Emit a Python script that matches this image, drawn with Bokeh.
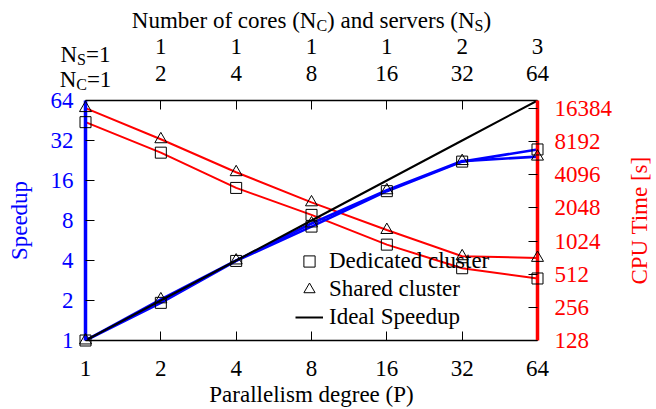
import math
from bokeh.plotting import figure
from bokeh.models import (LogAxis, Range1d, LogScale, FixedTicker, NumeralTickFormatter,
                          Legend, LegendItem)
from bokeh.core.properties import value
from bokeh.embed import file_html
from bokeh.resources import INLINE

# ---------------- data ----------------
parallelism = [1, 2, 4, 8, 16, 32, 64]
servers = [1, 1, 1, 1, 1, 2, 3]
cores = [1, 2, 4, 8, 16, 32, 64]
speedup_dedicated = [1.0, 1.92, 3.97, 7.2, 13.3, 22.2, 27.4]
speedup_shared = [1.0, 2.04, 4.0, 7.6, 13.5, 22.4, 24.2]
speedup_ideal = [1, 2, 4, 8, 16, 32, 64]
cpu_dedicated = [12300, 6500, 3110, 1770, 950, 580, 468]
cpu_shared = [16500, 8600, 4320, 2300, 1290, 745, 720]
speedup_ticks = [1, 2, 4, 8, 16, 32, 64]
cpu_ticks = [128, 256, 512, 1024, 2048, 4096, 8192, 16384]

FONT = "Liberation Serif"
FS = 23
SUB = 16
BLUE = "#0000ff"
RED = "#ff0000"

CPU_MIN, CPU_MAX = 128, 19350

p = figure(width=656, height=409, x_axis_type="log", y_axis_type="log",
           x_range=Range1d(1, 64), y_range=Range1d(1, 64),
           output_backend="svg", toolbar_location=None,
           min_border_left=85, min_border_right=119, min_border_top=100, min_border_bottom=69)
p.outline_line_color = None
p.grid.visible = False
p.extra_y_ranges = {"cpu": Range1d(CPU_MIN, CPU_MAX)}
p.extra_y_scales = {"cpu": LogScale()}

# lines
p.line(parallelism, cpu_shared, line_color=RED, line_width=2, y_range_name="cpu")
p.line(parallelism, cpu_dedicated, line_color=RED, line_width=2, y_range_name="cpu")
p.line(parallelism, speedup_dedicated, line_color=BLUE, line_width=2.6)
p.line(parallelism, speedup_shared, line_color=BLUE, line_width=2.6)
ideal = p.line(parallelism, speedup_ideal, line_color="black", line_width=2)

mk = dict(fill_color=None, line_color="black", line_width=1, level="overlay")
sq = p.scatter(parallelism, speedup_dedicated, marker="square", size=11, **mk)
tr = p.scatter(parallelism, speedup_shared, marker="triangle", size=12, **mk)
p.scatter(parallelism, cpu_dedicated, marker="square", size=11, y_range_name="cpu", **mk)
p.scatter(parallelism, cpu_shared, marker="triangle", size=12, y_range_name="cpu", **mk)


def style_axis(ax, ticks, label_color, line_color, line_width):
    ax.ticker = FixedTicker(ticks=ticks, minor_ticks=[])
    ax.formatter = NumeralTickFormatter(format="0")
    ax.major_label_text_font = FONT
    ax.major_label_text_font_size = f"{FS}px"
    ax.major_label_text_color = label_color
    ax.axis_line_color = line_color
    ax.axis_line_width = line_width
    ax.major_tick_in = 9
    ax.major_tick_out = 0
    ax.major_tick_line_color = "black"
    ax.major_tick_line_width = 1
    ax.minor_tick_line_color = None
    ax.axis_label_text_font = FONT
    ax.axis_label_text_font_size = f"{FS}px"
    ax.axis_label_text_font_style = "normal"
    ax.axis_label_text_color = "black"


# bottom axis
xb = p.xaxis[0]
style_axis(xb, parallelism, "black", "black", 1.5)
xb.major_label_standoff = 20
xb.axis_label = "Parallelism degree (P)"
xb.axis_label_standoff = 3

# left axis
yl = p.yaxis[0]
style_axis(yl, speedup_ticks, BLUE, BLUE, 3.5)
yl.major_label_standoff = 12
yl.axis_label = "Speedup"
yl.axis_label_text_color = BLUE
yl.axis_label_standoff = 16

# right axis (its title is drawn below as rotated text reading bottom-to-top)
yr = LogAxis(y_range_name="cpu")
style_axis(yr, cpu_ticks, RED, RED, 3.5)
yr.major_label_standoff = 17
p.add_layout(yr, "right")

# top axes: cores (inner) and servers (outer)
ax_nc = LogAxis()
style_axis(ax_nc, parallelism, "black", "black", 1.5)
ax_nc.major_label_standoff = 20
ax_nc.major_label_overrides = {parallelism[0]: ""}
p.add_layout(ax_nc, "above")

ax_ns = LogAxis()
style_axis(ax_ns, parallelism, "black", None, 1)
ax_ns.major_tick_line_color = None
ax_ns.major_label_standoff = 9
ns_over = {parallelism[i]: str(servers[i]) for i in range(1, len(parallelism))}
ns_over[parallelism[0]] = ""
ax_ns.major_label_overrides = ns_over
p.add_layout(ax_ns, "above")

# legend
legend = Legend(items=[LegendItem(label="Dedicated cluster", renderers=[sq]),
                       LegendItem(label="Shared cluster", renderers=[tr]),
                       LegendItem(label="Ideal Speedup", renderers=[ideal])],
                location=(210, 9), orientation="vertical")
legend.background_fill_alpha = 0
legend.border_line_alpha = 0
legend.padding = 0
legend.margin = 0
legend.spacing = 0
legend.glyph_width = 28
legend.glyph_height = 28
legend.label_height = 28
legend.label_standoff = 6
legend.label_text_font = FONT
legend.label_text_font_size = f"{FS}px"
legend.label_text_color = "black"
p.add_layout(legend)

# right axis title
p.text(x=[p.x_range.end], y=[math.sqrt(CPU_MIN * CPU_MAX)], text=["CPU Time [s]"],
       y_range_name="cpu", angle=math.pi / 2, x_offset=102,
       text_font=value(FONT), text_font_size=value(f"{FS}px"), text_color=RED,
       text_align="center", text_baseline="middle", level="overlay")

# composite texts with subscripts (drawn as text glyphs above the frame)
TIMES = {'N': 722, 'u': 500, 'm': 778, 'b': 500, 'e': 444, 'r': 333, ' ': 250, 'o': 500,
         'f': 333, 'c': 444, 's': 389, '(': 333, ')': 333, 'a': 444, 'n': 500, 'd': 500,
         'v': 500, 'C': 667, 'S': 556, '=': 564, '1': 500, '2': 500, '3': 500}


def tw(s, size):
    return sum(TIMES.get(c, 500) for c in s) / 1000.0 * size


top = p.y_range.end


def composite(parts, x, dy):
    total = sum(tw(t, SUB if sub else FS) for t, sub in parts)
    acc = -total / 2.0
    for t, sub in parts:
        size = SUB if sub else FS
        p.text(x=[x], y=[top], text=[t], x_offset=acc, y_offset=dy + (5 if sub else 0),
               text_font=value(FONT), text_font_size=value(f"{size}px"),
               text_align="left", text_baseline="alphabetic", text_color="black",
               level="overlay")
        acc += tw(t, size)


composite([("N", False), ("C", True), ("=" + str(cores[0]), False)], parallelism[0], -20.6)
composite([("N", False), ("S", True), ("=" + str(servers[0]), False)], parallelism[0], -45.6)
x_mid = math.sqrt(parallelism[0] * parallelism[-1])
composite([("Number of cores (N", False), ("C", True), (") and servers (N", False),
           ("S", True), (")", False)], x_mid, -80.5)

open("out.html", "w").write(file_html(p, INLINE))
